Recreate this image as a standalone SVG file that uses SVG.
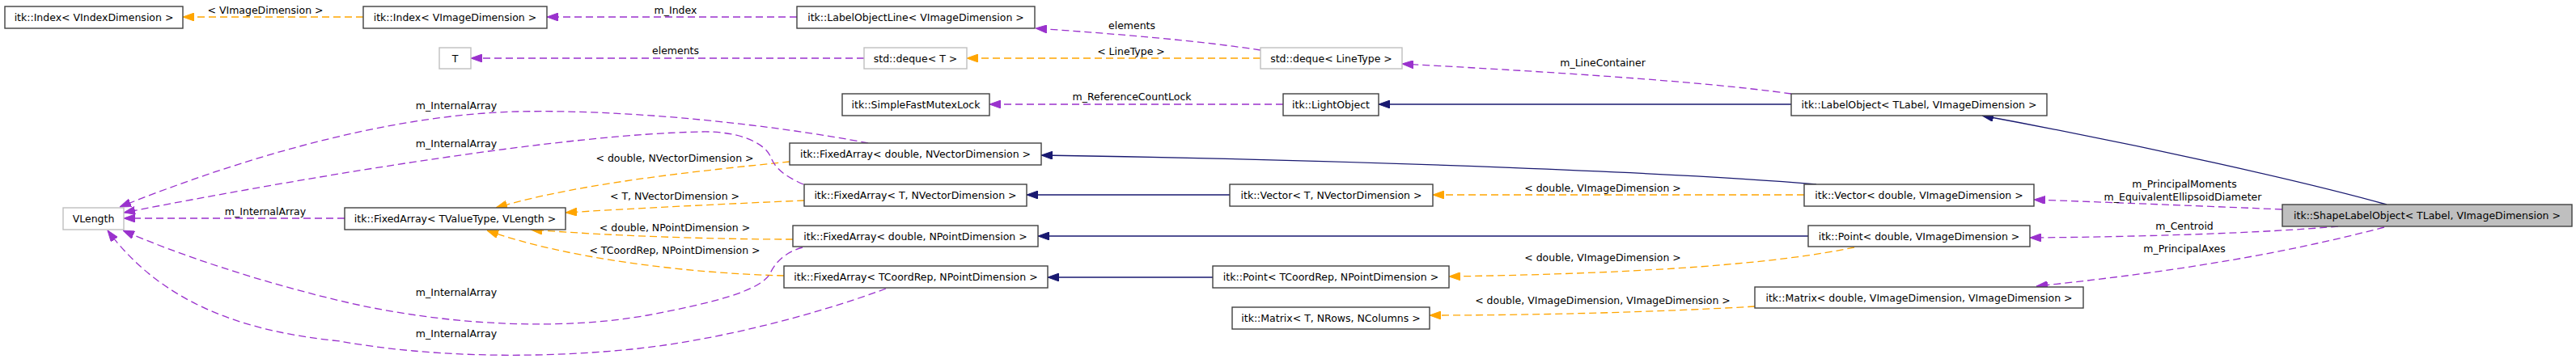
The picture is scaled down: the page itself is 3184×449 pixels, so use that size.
<svg xmlns="http://www.w3.org/2000/svg" width="3184" height="449" viewBox="0 0 3184 449">
<style>
text{font-family:"DejaVu Sans","Liberation Sans",sans-serif;font-size:12.5px;fill:#000}
.n text{text-anchor:middle}
.box{fill:#fff;stroke:#404040;stroke-width:1.4}
.ext{fill:#fff;stroke:#bfbfbf;stroke-width:1.4}
.cur{fill:#bfbfbf;stroke:#404040;stroke-width:1.4}
.e{fill:none;stroke-width:1.3}
.o{stroke:#ffa500;stroke-dasharray:9,5}
.p{stroke:#9a32cd;stroke-dasharray:9,5}
.b{stroke:#191970}
.lbl{text-anchor:middle}
</style>
<defs>
<marker id="ao" viewBox="0 0 14 10" refX="14" refY="5" markerWidth="14" markerHeight="10" markerUnits="userSpaceOnUse" orient="auto"><path d="M0,0 L14,5 L0,10 z" fill="#ffa500" stroke="#ffa500"/></marker>
<marker id="ap" viewBox="0 0 14 10" refX="14" refY="5" markerWidth="14" markerHeight="10" markerUnits="userSpaceOnUse" orient="auto"><path d="M0,0 L14,5 L0,10 z" fill="#9a32cd" stroke="#9a32cd"/></marker>
<marker id="ab" viewBox="0 0 14 10" refX="14" refY="5" markerWidth="14" markerHeight="10" markerUnits="userSpaceOnUse" orient="auto"><path d="M0,0 L14,5 L0,10 z" fill="#191970" stroke="#191970"/></marker>
</defs>
<rect width="3184" height="449" fill="#fff"/>
<g id="edges">
<path class="e o" marker-end="url(#ao)" d="M449,21 L226,21"/>
<path class="e p" marker-end="url(#ap)" d="M985,21 L676,21"/>
<path class="e p" marker-end="url(#ap)" d="M1068,72 L582,72"/>
<path class="e p" marker-end="url(#ap)" d="M1558,62 C1480,50 1380,42 1280,35"/>
<path class="e o" marker-end="url(#ao)" d="M1558,72 L1195,72"/>
<path class="e p" marker-end="url(#ap)" d="M1586,129 L1223,129"/>
<path class="e p" marker-end="url(#ap)" d="M2214,116 C2100,100 1900,88 1733,79"/>
<path class="e b" marker-end="url(#ab)" d="M2214,129 L1704,129"/>
<path class="e b" marker-end="url(#ab)" d="M2950,253 C2850,225 2650,180 2450,143"/>
<path class="e b" marker-end="url(#ab)" d="M2245,228 C2100,215 1700,198 1287,192"/>
<path class="e b" marker-end="url(#ab)" d="M1520,241 L1269,241"/>
<path class="e b" marker-end="url(#ab)" d="M2235,292 L1283,292"/>
<path class="e b" marker-end="url(#ab)" d="M1499,343 L1295,343"/>
<path class="e o" marker-end="url(#ao)" d="M2230,241 L1771,241"/>
<path class="e o" marker-end="url(#ao)" d="M2292,306 C2200,325 2050,338 1791,342"/>
<path class="e o" marker-end="url(#ao)" d="M2169,379 C2050,386 1900,390 1767,390"/>
<path class="e p" marker-end="url(#ap)" d="M2821,259 C2700,254 2600,250 2514,247"/>
<path class="e p" marker-end="url(#ap)" d="M2890,280 C2800,288 2650,293 2509,294"/>
<path class="e p" marker-end="url(#ap)" d="M2947,281 C2800,320 2650,340 2517,354"/>
<path class="e p" marker-end="url(#ap)" d="M426,270 L153,270"/>
<path class="e o" marker-end="url(#ao)" d="M976,200 C880,210 720,225 613,257"/>
<path class="e o" marker-end="url(#ao)" d="M994,248 C900,252 780,258 699,263"/>
<path class="e o" marker-end="url(#ao)" d="M980,296 C880,296 760,292 656,284"/>
<path class="e o" marker-end="url(#ao)" d="M969,341 C850,338 700,320 602,285"/>
<path class="e p" marker-end="url(#ap)" d="M1073,177 C960,155 780,135 640,138 C480,142 300,195 148,256"/>
<path class="e p" marker-end="url(#ap)" d="M993,228 C970,218 958,208 953,195 C945,175 910,162 867,163 C700,166 400,215 153,263"/>
<path class="e p" marker-end="url(#ap)" d="M992,306 C970,312 958,325 952,338 C940,360 880,375 800,390 C700,408 560,405 420,372 C320,348 220,315 152,285"/>
<path class="e p" marker-end="url(#ap)" d="M1095,357 C1000,392 880,422 780,432 C650,445 520,440 420,422 C300,410 200,375 133,285"/>
<text class="lbl" x="328" y="17">&lt; VImageDimension &gt;</text>
<text class="lbl" x="835" y="17">m_Index</text>
<text class="lbl" x="835" y="67">elements</text>
<text class="lbl" x="1399" y="36">elements</text>
<text class="lbl" x="1398" y="68">&lt; LineType &gt;</text>
<text class="lbl" x="1399" y="124">m_ReferenceCountLock</text>
<text class="lbl" x="1981" y="82">m_LineContainer</text>
<text class="lbl" x="1981" y="237">&lt; double, VImageDimension &gt;</text>
<text class="lbl" x="1981" y="323">&lt; double, VImageDimension &gt;</text>
<text class="lbl" x="1981" y="376">&lt; double, VImageDimension, VImageDimension &gt;</text>
<text class="lbl" x="2700" y="232">m_PrincipalMoments</text>
<text class="lbl" x="2698" y="248">m_EquivalentEllipsoidDiameter</text>
<text class="lbl" x="2700" y="284">m_Centroid</text>
<text class="lbl" x="2700" y="312">m_PrincipalAxes</text>
<text class="lbl" x="328" y="266">m_InternalArray</text>
<text class="lbl" x="564" y="135">m_InternalArray</text>
<text class="lbl" x="564" y="182">m_InternalArray</text>
<text class="lbl" x="564" y="366">m_InternalArray</text>
<text class="lbl" x="564" y="417">m_InternalArray</text>
<text class="lbl" x="834" y="200">&lt; double, NVectorDimension &gt;</text>
<text class="lbl" x="834" y="247">&lt; T, NVectorDimension &gt;</text>
<text class="lbl" x="834" y="286">&lt; double, NPointDimension &gt;</text>
<text class="lbl" x="834" y="314">&lt; TCoordRep, NPointDimension &gt;</text>
</g>
<g id="n1" class="n"><rect class="box" x="6" y="8" width="220" height="27"/><text x="116" y="26">itk::Index&lt; VIndexDimension &gt;</text></g>
<g id="n2" class="n"><rect class="box" x="449" y="8" width="227" height="27"/><text x="562.5" y="26">itk::Index&lt; VImageDimension &gt;</text></g>
<g id="n3" class="n"><rect class="ext" x="543" y="59" width="39" height="26"/><text x="562.5" y="77">T</text></g>
<g id="n4" class="n"><rect class="box" x="985" y="8" width="294" height="27"/><text x="1132" y="26">itk::LabelObjectLine&lt; VImageDimension &gt;</text></g>
<g id="n5" class="n"><rect class="ext" x="1068" y="59" width="127" height="26"/><text x="1131.5" y="77">std::deque&lt; T &gt;</text></g>
<g id="n6" class="n"><rect class="box" x="1041" y="116" width="182" height="27"/><text x="1132" y="134">itk::SimpleFastMutexLock</text></g>
<g id="n7" class="n"><rect class="box" x="976" y="177" width="311" height="27"/><text x="1131.5" y="195">itk::FixedArray&lt; double, NVectorDimension &gt;</text></g>
<g id="n8" class="n"><rect class="box" x="994" y="228" width="275" height="27"/><text x="1131.5" y="246">itk::FixedArray&lt; T, NVectorDimension &gt;</text></g>
<g id="n9" class="n"><rect class="box" x="980" y="279" width="303" height="26"/><text x="1131.5" y="297">itk::FixedArray&lt; double, NPointDimension &gt;</text></g>
<g id="n10" class="n"><rect class="box" x="969" y="329" width="326" height="27"/><text x="1132" y="347">itk::FixedArray&lt; TCoordRep, NPointDimension &gt;</text></g>
<g id="n11" class="n"><rect class="ext" x="78" y="257" width="75" height="27"/><text x="115.5" y="275">VLength</text></g>
<g id="n12" class="n"><rect class="box" x="426" y="257" width="273" height="27"/><text x="562.5" y="275">itk::FixedArray&lt; TValueType, VLength &gt;</text></g>
<g id="n13" class="n"><rect class="ext" x="1558" y="59" width="175" height="26"/><text x="1645.5" y="77">std::deque&lt; LineType &gt;</text></g>
<g id="n14" class="n"><rect class="box" x="1586" y="116" width="118" height="27"/><text x="1645" y="134">itk::LightObject</text></g>
<g id="n15" class="n"><rect class="box" x="2214" y="116" width="316" height="27"/><text x="2372" y="134">itk::LabelObject&lt; TLabel, VImageDimension &gt;</text></g>
<g id="n16" class="n"><rect class="box" x="1520" y="228" width="251" height="27"/><text x="1645.5" y="246">itk::Vector&lt; T, NVectorDimension &gt;</text></g>
<g id="n17" class="n"><rect class="box" x="2230" y="228" width="284" height="27"/><text x="2372" y="246">itk::Vector&lt; double, VImageDimension &gt;</text></g>
<g id="n18" class="n"><rect class="box" x="2235" y="279" width="274" height="26"/><text x="2372" y="297">itk::Point&lt; double, VImageDimension &gt;</text></g>
<g id="n19" class="n"><rect class="box" x="1499" y="329" width="292" height="27"/><text x="1645" y="347">itk::Point&lt; TCoordRep, NPointDimension &gt;</text></g>
<g id="n20" class="n"><rect class="box" x="1523" y="380" width="244" height="27"/><text x="1645" y="398">itk::Matrix&lt; T, NRows, NColumns &gt;</text></g>
<g id="n21" class="n"><rect class="box" x="2169" y="355" width="406" height="26"/><text x="2372" y="373">itk::Matrix&lt; double, VImageDimension, VImageDimension &gt;</text></g>
<g id="n22" class="n"><rect class="cur" x="2821" y="253" width="358" height="27"/><text x="3000" y="271">itk::ShapeLabelObject&lt; TLabel, VImageDimension &gt;</text></g>
</svg>
